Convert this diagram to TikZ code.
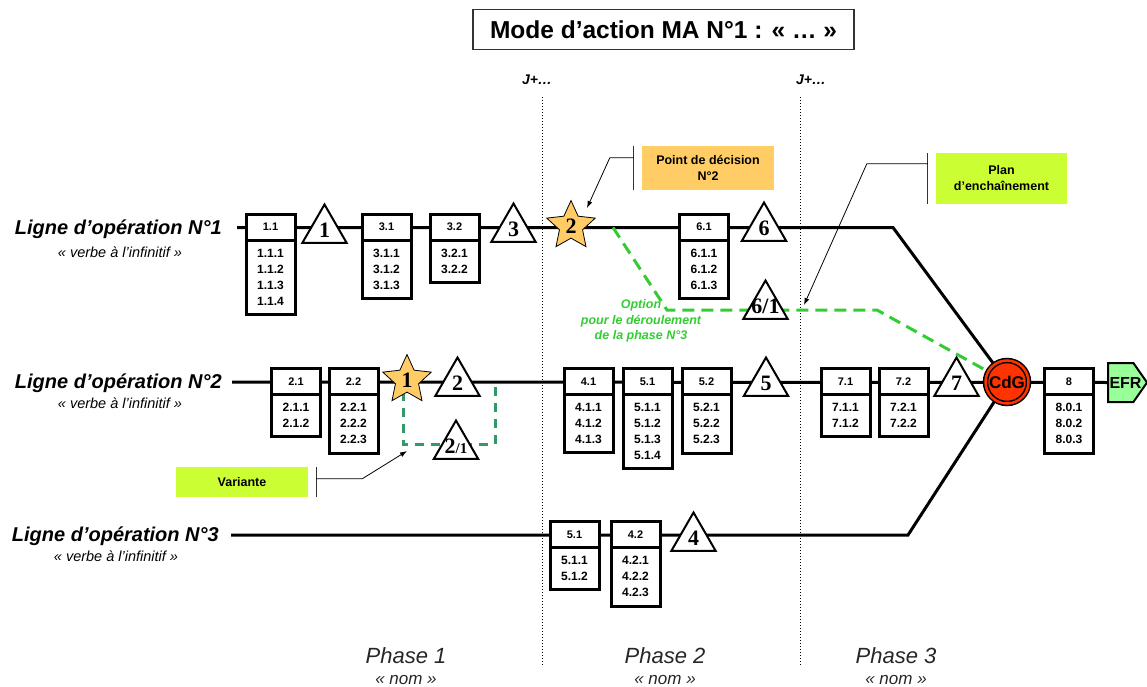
\documentclass[tikz,border=0pt]{standalone}
\usepackage{fontspec}
\setmainfont{Liberation Sans}
\newfontfamily\tnr{Liberation Serif}
\usetikzlibrary{shapes.geometric, shapes.symbols, arrows.meta, positioning, calc, backgrounds}
\definecolor{maorange}{RGB}{255,204,102}
\definecolor{malime}{RGB}{204,255,51}
\definecolor{mared}{RGB}{255,51,0}
\definecolor{mamint}{RGB}{153,255,153}
\definecolor{magreen}{RGB}{51,204,51}
\definecolor{madkgreen}{RGB}{51,153,102}

\begin{document}
\begin{tikzpicture}[x=1pt, y=-1pt,
  hd/.style={rectangle, draw, line width=3pt, fill=white, minimum width=49pt, minimum height=26pt, inner sep=0pt, outer sep=0pt, font=\fontsize{11}{11}\selectfont\bfseries},
  bd/.style={rectangle, draw, line width=3pt, fill=white, minimum width=49pt, inner xsep=0pt, inner ysep=9pt, outer sep=0pt, align=center, font=\fontsize{12}{16}\selectfont\bfseries},
  jalon/.style={regular polygon, regular polygon sides=3, draw, line width=2pt, fill=white, minimum size=51pt, inner sep=0pt, font=\fontsize{22}{22}\selectfont\tnr\bfseries},
  etoile/.style={star, star points=5, star point ratio=2.1, draw, line width=0.8pt, fill=maorange, minimum size=51pt, inner sep=0pt, font=\fontsize{22}{22}\selectfont\tnr\bfseries},
  cdg/.style={circle, draw, line width=1.5pt, double=mared, double distance=2.5pt, fill=mared, minimum size=43pt, inner sep=0pt, font=\fontsize{17}{17}\selectfont\bfseries},
  efr/.style={signal, signal to=east, signal pointer angle=110, draw, line width=2pt, fill=mamint, minimum width=39pt, minimum height=39pt, inner sep=0pt, font=\fontsize{16}{16}\selectfont\bfseries},
  titre/.style={draw=black!80, line width=1.5pt, minimum width=381pt, minimum height=40pt, font=\fontsize{24.5}{24.5}\selectfont\bfseries},
  lab/.style={anchor=east, inner sep=0pt, font=\fontsize{20}{20}\selectfont\bfseries\itshape},
  sous/.style={inner sep=0pt, font=\fontsize{14.5}{14.5}\selectfont\itshape},
  phase/.style={inner sep=0pt, text=black!85, font=\fontsize{22}{22}\selectfont\itshape},
  nom/.style={inner sep=0pt, text=black!85, font=\fontsize{17}{17}\selectfont\itshape},
  jour/.style={inner sep=0pt, font=\fontsize{14}{14}\selectfont\bfseries\itshape},
  appel/.style={inner sep=0pt, align=center, font=\fontsize{12.5}{16}\selectfont\bfseries},
  optxt/.style={inner sep=0pt, align=center, text=magreen, font=\fontsize{12.5}{15.5}\selectfont\bfseries\itshape},
  crochet/.style={line width=0.8pt, draw=black!80},
  fleche/.style={line width=0.8pt, -{Latex[length=7pt, width=5pt]}},
  ligne/.style={line width=3pt},
  option/.style={line width=3pt, magreen, dash pattern=on 12pt off 7pt},
  variante/.style={line width=3pt, madkgreen, dash pattern=on 9pt off 7pt},
  phasesep/.style={line width=1pt, dash pattern=on 1pt off 2pt}
]
\useasboundingbox (0,0) rectangle (1147,686);

% titre et jalons de temps
\node[titre] (titre) at (663.5,29.5) {Mode d’action MA N°1 : « … »};
\node[jour] (j1) at (537,80) {J+…};
\node[jour] (j2) at (811,80) {J+…};

% lignes d'operation
\node[lab] (lab1) at (222,229) {Ligne d’opération N°1};
\node[sous] (sub1) at (120,252) {« verbe à l’infinitif »};
\node[lab] (lab2) at (222,383) {Ligne d’opération N°2};
\node[sous] (sub2) at (120,403) {« verbe à l’infinitif »};
\node[lab] (lab3) at (219,536) {Ligne d’opération N°3};
\node[sous] (sub3) at (116,556) {« verbe à l’infinitif »};

% ligne 1
\foreach \id/\xx/\hdr/\lst in {h11/270.5/1.1/{1.1.1\\1.1.2\\1.1.3\\1.1.4}, h31/386.5/3.1/{3.1.1\\3.1.2\\3.1.3}, h32/454.5/3.2/{3.2.1\\3.2.2}, h61/704/6.1/{6.1.1\\6.1.2\\6.1.3}}{
  \node[hd] (\id) at (\xx,227) {\hdr};
  \node[bd, below=0pt of \id] (\id-c) {\lst};
}
\node[jalon] (t1) at (324.5,230) {1};
\node[jalon] (t3) at (513.5,229) {3};
\node[etoile] (st2) at (571,226) {2};
\node[jalon] (t6) at (764,228) {6};
\node[jalon] (t61) at (765.5,306) {\makebox[0pt]{6/1}};

% ligne 2
\foreach \id/\xx/\hdr/\lst in {h21/296/2.1/{2.1.1\\2.1.2}, h22/353.5/2.2/{2.2.1\\2.2.2\\2.2.3}, h41/588.5/4.1/{4.1.1\\4.1.2\\4.1.3}, h51/647.5/5.1/{5.1.1\\5.1.2\\5.1.3\\5.1.4}, h52/706.5/5.2/{5.2.1\\5.2.2\\5.2.3}, h71/845.5/7.1/{7.1.1\\7.1.2}, h72/903.5/7.2/{7.2.1\\7.2.2}, h8/1069/8/{8.0.1\\8.0.2\\8.0.3}}{
  \node[hd] (\id) at (\xx,381.5) {\hdr};
  \node[bd, below=0pt of \id] (\id-c) {\lst};
}
\node[etoile] (st1) at (407,380) {1};
\node[jalon] (t2) at (457.5,383) {2};
\node[jalon] (t21) at (456,446) {\makebox[0pt]{2{\fontsize{15}{15}\selectfont/1}}};
\node[jalon] (t5) at (766,383) {5};
\node[jalon] (t7) at (956.5,383) {7};
\node[cdg] (cdg) at (1007,382) {CdG};
\node[efr] (efr) at (1120.7,382.5) {\makebox[0pt]{\hspace*{9.6pt}EFR}};

% ligne 3
\foreach \id/\xx/\hdr/\lst in {h3a/574.5/5.1/{5.1.1\\5.1.2}, h42/635.5/4.2/{4.2.1\\4.2.2\\4.2.3}}{
  \node[hd] (\id) at (\xx,534.5) {\hdr};
  \node[bd, below=0pt of \id] (\id-c) {\lst};
}
\node[jalon] (t4) at (693.5,538) {4};

% points de passage
\coordinate (s1) at (237,227.5);
\coordinate (k1) at (893,227.5);
\coordinate (s2) at (232,382);
\coordinate (s3) at (231,535);
\coordinate (k3) at (908,535);
\coordinate (o1) at (613,227.5);
\coordinate (o2) at (667,310);
\coordinate (o3) at (877,310);
\coordinate (v1) at (403,392);
\coordinate (v2) at (403,444);
\coordinate (v3) at (495,444);
\coordinate (v4) at (495,382);
\coordinate (cible2) at (407,451);
\coordinate (cible6) at (804,305);

\node[optxt] (opt) at (641,321) {Option\\pour le déroulement\\de la phase N°3};

% phases
\node[phase] (ph1) at (406,656) {Phase 1};
\node[nom] (nm1) at (406,680) {« nom »};
\node[phase] (ph2) at (665,656) {Phase 2};
\node[nom] (nm2) at (665,680) {« nom »};
\node[phase] (ph3) at (896,656) {Phase 3};
\node[nom] (nm3) at (896,680) {« nom »};

% appels
\node[appel, fill=maorange, minimum width=132pt, minimum height=44pt] (pdec) at (708,168) {Point de décision\\N°2};
\draw[crochet] ([xshift=-8pt]pdec.north west) -- ([xshift=-8pt]pdec.south west);
\draw[fleche] ([xshift=-8pt, yshift=-12pt]pdec.north west) -- ++(-24,0) -- ($(st2)+(16,-18)$);
\node[appel, fill=malime, minimum width=131pt, minimum height=51pt] (plan) at (1001.5,178.5) {Plan\\d’enchaînement};
\draw[crochet] ([xshift=-8pt]plan.north west) -- ([xshift=-8pt]plan.south west);
\draw[fleche] ([xshift=-8pt, yshift=-11pt]plan.north west) -- ++(-61,0) -- (cible6);
\node[appel, fill=malime, minimum width=132pt, minimum height=30pt] (var) at (242,482) {Variante};
\draw[crochet] ([xshift=8pt]var.north east) -- ([xshift=8pt]var.south east);
\draw[fleche] ([xshift=8pt, yshift=-12pt]var.north east) -- ++(46,0) -- (cible2);

\begin{scope}[on background layer]
\draw[phasesep] (542,97) -- (542,665);
\draw[phasesep] (800,97) -- (800,665);
\draw[ligne] (s1) -- (k1) -- (cdg);
\draw[ligne] (s2) -- (efr);
\draw[ligne] (s3) -- (k3) -- (cdg);
\draw[option] (o1) -- (o2) -- (o3) -- (cdg);
\draw[variante] (v1) -- (v2) -- (v3) -- (v4);
\end{scope}
\end{tikzpicture}
\end{document}
